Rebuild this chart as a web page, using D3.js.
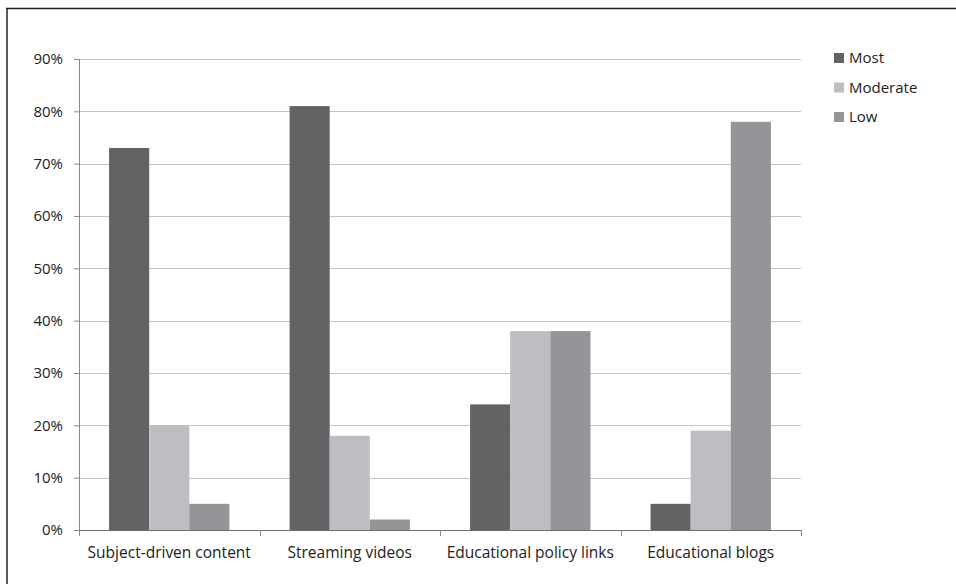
<!DOCTYPE html>
<html>
<head>
<meta charset="utf-8">
<script src="https://cdn.jsdelivr.net/npm/d3@7"></script>
<style>
  body { margin: 0; background: #fff; }
  text { font-family: "Open Sans", "Liberation Sans", sans-serif; fill: #222; }
</style>
</head>
<body>
<div id="chart"></div>
<script>
// Data
var categories = ["Subject-driven content", "Streaming videos", "Educational policy links", "Educational blogs"];
var seriesNames = ["Most", "Moderate", "Low"];
var most = [73, 81, 24, 5];
var moderate = [20, 18, 38, 19];
var low = [5, 2, 38, 78];
var yTicks = [0, 10, 20, 30, 40, 50, 60, 70, 80, 90];

var seriesValues = [most, moderate, low];
var colors = ["#636365", "#bdbec1", "#949599"];

var W = 956, H = 584;
var margin = {top: 59, right: 155, bottom: 54, left: 79},
    width = W - margin.left - margin.right,
    height = H - margin.top - margin.bottom;

var root = d3.select("#chart").append("svg")
  .attr("width", W)
  .attr("height", H);

// frame (top and left edges visible)
root.append("line").attr("x1", 6).attr("x2", W).attr("y1", 8.5).attr("y2", 8.5)
  .attr("stroke", "#222").attr("stroke-width", 1.5);
root.append("line").attr("x1", 7).attr("x2", 7).attr("y1", 8).attr("y2", H)
  .attr("stroke", "#222").attr("stroke-width", 1.5);

var svg = root.append("g")
  .attr("transform", "translate(" + margin.left + "," + margin.top + ")");

// scales
var x0 = d3.scaleBand().domain(categories).range([0, width]).paddingInner(1/3).paddingOuter(1/6);
var x1 = d3.scaleBand().domain(seriesNames).range([0, x0.bandwidth()]);
var y = d3.scaleLinear().domain([0, 90]).range([height, 0]);
var step = width / categories.length;

// gridlines
svg.append("g")
  .selectAll("line")
  .data(yTicks.slice(1))
  .enter().append("line")
    .attr("x1", 0).attr("x2", width)
    .attr("y1", function(d) { return Math.round(y(d)) + 0.5; })
    .attr("y2", function(d) { return Math.round(y(d)) + 0.5; })
    .attr("stroke", "#c4c4c4");

// bars
var groups = svg.append("g")
  .selectAll("g")
  .data(categories)
  .enter().append("g")
    .attr("transform", function(d) { return "translate(" + x0(d) + ",0)"; });

groups.selectAll("rect")
  .data(function(d, i) { return seriesNames.map(function(s, j) { return {s: s, v: seriesValues[j][i], j: j}; }); })
  .enter().append("rect")
    .attr("x", function(d) { return x1(d.s); })
    .attr("width", x1.bandwidth())
    .attr("y", function(d) { return y(d.v); })
    .attr("height", function(d) { return height - y(d.v); })
    .attr("fill", function(d) { return colors[d.j]; });

// y axis
var yAxis = svg.append("g")
  .call(d3.axisLeft(y).tickValues(yTicks).tickSize(5).tickPadding(11)
    .tickFormat(function(d) { return d + "%"; }));
yAxis.select(".domain").attr("stroke", "#8a8a8a").attr("d", "M0.5," + height + "V0");
yAxis.selectAll(".tick line").attr("stroke", "#8a8a8a");
yAxis.selectAll("text").style("font-size", "15px").style("fill", "#222");

// x axis
var xAxisG = svg.append("g").attr("transform", "translate(0," + height + ")");
xAxisG.append("line").attr("x1", 0).attr("x2", width).attr("y1", 0.5).attr("y2", 0.5)
  .attr("stroke", "#6e6e6e");
xAxisG.selectAll(".xtick")
  .data(d3.range(categories.length + 1))
  .enter().append("line")
    .attr("x1", function(i) { return Math.round(i * step) + 0.5; })
    .attr("x2", function(i) { return Math.round(i * step) + 0.5; })
    .attr("y1", 0).attr("y2", 6)
    .attr("stroke", "#8a8a8a");
xAxisG.selectAll(".xlabel")
  .data(categories)
  .enter().append("text")
    .attr("x", function(d) { return x0(d) + x0.bandwidth() / 2; })
    .attr("y", 28)
    .style("text-anchor", "middle")
    .style("font-size", "15.5px")
    .text(function(d) { return d; });

// legend
var legend = root.append("g")
  .selectAll("g")
  .data(seriesNames)
  .enter().append("g")
    .attr("transform", function(d, i) { return "translate(834," + (53 + i * 29.5) + ")"; });
legend.append("rect")
  .attr("width", 10).attr("height", 10)
  .attr("fill", function(d, i) { return colors[i]; });
legend.append("text")
  .attr("x", 15).attr("y", 5)
  .attr("dy", "0.35em")
  .style("font-size", "15px")
  .text(function(d) { return d; });
</script>
</body>
</html>
